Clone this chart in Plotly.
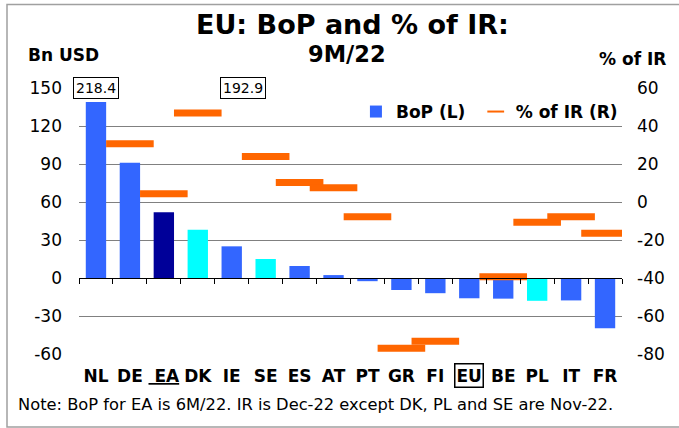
import plotly.graph_objects as go

categories = ["NL", "DE", "EA", "DK", "IE", "SE", "ES", "AT", "PT", "GR", "FI", "EU", "BE", "PL", "IT", "FR"]
bop_bn_usd = [139, 91, 52, 38, 25, 15, 9.5, 2.3, -2.5, -9.5, -12, -16, -16.3, -18, -17.7, -39.7]
pct_of_ir = [218.4, 30.7, 4.4, 46.8, 192.9, 24, 10.2, 7.5, -7.7, -77, -73.3, None, -39.3, -10.7, -7.7, -16.5]
nov22_countries = ["DK", "PL", "SE"]
half_year_area = ["EA"]
left_ticks = [150, 120, 90, 60, 30, 0, -30, -60]
right_ticks = [60, 40, 20, 0, -20, -40, -60, -80]

BLUE = "#3366FF"
NAVY = "#000099"
CYAN = "#00FFFF"
ORANGE = "#FF6600"
FONT = "DejaVu Sans"

bar_colors = [NAVY if c in half_year_area else CYAN if c in nov22_countries else BLUE for c in categories]
tick_text = ["<u> " + c + "</u>" if c in half_year_area else ("" if c == "EU" else c) for c in categories]

Y_MIN, Y_MAX = min(left_ticks), max(left_ticks)
Y2_MIN, Y2_MAX = min(right_ticks), max(right_ticks)

fig = go.Figure()
fig.add_trace(go.Bar(
    x=categories, y=bop_bn_usd, name="<b>BoP (L)</b>\u00a0",
    marker=dict(color=bar_colors, line=dict(width=0)),
    width=0.6, xaxis="x", yaxis="y",
))
fig.add_trace(go.Scatter(
    x=categories, y=pct_of_ir, name="<b>% of IR (R)</b>", mode="markers",
    marker=dict(symbol="line-ew", size=34, color=ORANGE, line=dict(color=ORANGE, width=7)),
    xaxis="x2", yaxis="y2", cliponaxis=True,
))

annotations = []
# off-scale values of % of IR
for c, v in zip(categories, pct_of_ir):
    if v is not None and v > Y2_MAX:
        annotations.append(dict(
            x=c, y=Y2_MAX, xref="x2", yref="y2", text=f"{v:.1f}", showarrow=False,
            font=dict(family=FONT, size=14, color="black"), bgcolor="white",
            bordercolor="black", borderwidth=1, borderpad=2,
            xshift=0 if c == "NL" else 11,
        ))

annotations += [
    dict(x=0.5037, y=1.2406, xref="paper", yref="paper", text="<b>EU: BoP and % of IR:</b>",
         showarrow=False, xanchor="center", yanchor="middle", font=dict(family=FONT, size=27, color="black")),
    dict(x=0.4936, y=1.1289, xref="paper", yref="paper", text="<b>9M/22</b>",
         showarrow=False, xanchor="center", yanchor="middle", font=dict(family=FONT, size=22.5, color="black")),
    dict(x=-0.0976, y=1.1222, xref="paper", yref="paper", text="<b>Bn USD</b>",
         showarrow=False, xanchor="left", yanchor="middle", font=dict(family=FONT, size=17, color="black")),
    dict(x=1.0847, y=1.109, xref="paper", yref="paper", text="<b>% of IR</b>",
         showarrow=False, xanchor="right", yanchor="middle", font=dict(family=FONT, size=17, color="black")),
    dict(x=-0.116, y=-0.1898, xref="paper", yref="paper",
         text="Note: BoP for EA is 6M/22. IR is Dec-22 except DK, PL and SE are Nov-22.",
         showarrow=False, xanchor="left", yanchor="middle", font=dict(family=FONT, size=16.3, color="black")),
    dict(x="EU", y=-0.0808, xref="x", yref="paper", text="<b>EU</b>", showarrow=False,
         xanchor="center", yanchor="middle", font=dict(family=FONT, size=17, color="black"),
         bordercolor="black", borderwidth=1.5, borderpad=1),
]

fig.update_layout(
    width=679, height=428,
    margin=dict(l=79, r=57, t=88, b=74, pad=0),
    paper_bgcolor="white", plot_bgcolor="white",
    showlegend=True,
    legend=dict(orientation="h", x=0.510, xanchor="left", y=0.9098, yanchor="middle",
                bgcolor="rgba(0,0,0,0)", font=dict(family=FONT, size=17, color="black"),
                traceorder="normal", itemsizing="constant"),
    bargap=0.4,
    xaxis=dict(type="category", categoryorder="array", categoryarray=categories,
               tickmode="array", tickvals=categories, ticktext=tick_text,
               range=[-0.5, len(categories) - 0.5],
               showline=False, showgrid=False, zeroline=False, ticks="",
               tickfont=dict(family=FONT, size=17, color="black", weight="bold"),
               ticklabelstandoff=10),
    xaxis2=dict(type="category", categoryorder="array", categoryarray=categories,
                overlaying="x", anchor="free", position=(0 - Y_MIN) / (Y_MAX - Y_MIN),
                range=[-0.5, len(categories) - 0.5],
                showline=True, linecolor="black", linewidth=1,
                ticks="outside", tickson="boundaries", ticklen=5, tickcolor="black", tickwidth=1,
                showticklabels=False, showgrid=False, zeroline=False),
    yaxis=dict(range=[Y_MIN, Y_MAX], tickmode="array", tickvals=left_ticks,
               ticktext=[str(t) for t in left_ticks],
               showgrid=True, gridcolor="#808080", gridwidth=1,
               zeroline=False, showline=False, ticks="",
               tickfont=dict(family=FONT, size=17, color="black"), ticklabelstandoff=16),
    yaxis2=dict(range=[Y2_MIN, Y2_MAX], tickmode="array", tickvals=right_ticks,
                ticktext=[str(t) for t in right_ticks],
                overlaying="y", side="right", anchor="x",
                showgrid=False, zeroline=False, showline=False, ticks="",
                tickfont=dict(family=FONT, size=17, color="black"), ticklabelstandoff=14),
    annotations=annotations,
    shapes=[dict(type="rect", xref="paper", yref="paper",
                 x0=(7 - 79) / 543, x1=(684 - 79) / 543, y0=(354 - 427) / 266, y1=(354 - 4.5) / 266,
                 line=dict(color="#A0A0A0", width=1.5), layer="below")],
)

fig.write_html("out.html", config={"displayModeBar": False},
               post_script="document.body.style.margin='0px';")
